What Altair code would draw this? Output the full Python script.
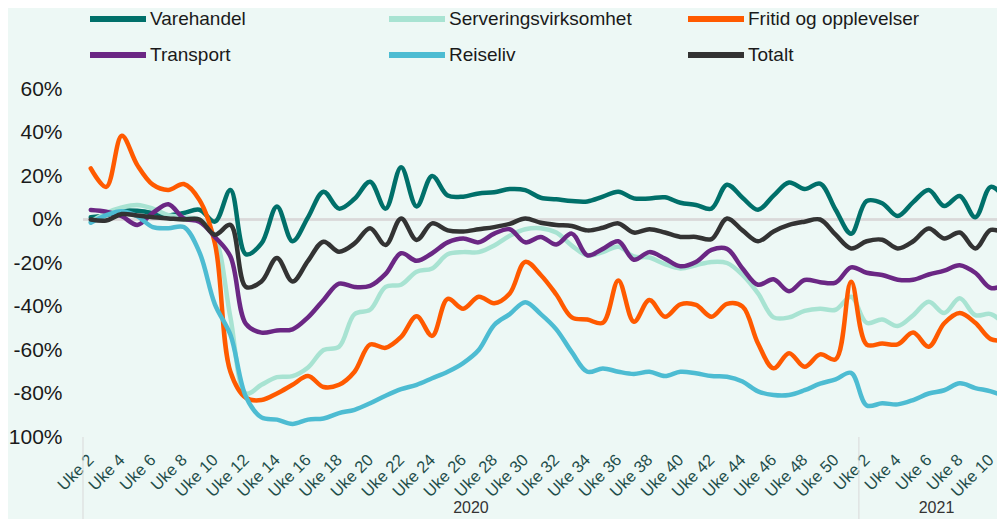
import json
import altair as alt
import pandas as pd

# ---- data -------------------------------------------------------------
week_labels = [f"Uke {w}" for w in range(2, 52)] + [f"Uke {w}" for w in range(2, 12)]
years = ["2020", "2021"]
year_centers = [24.5, 54.5]
group_bounds = [-0.5, 49.5]

series_names = ["Varehandel", "Serveringsvirksomhet", "Fritid og opplevelser",
                "Transport", "Reiseliv", "Totalt"]
series_colors = ["#00706a", "#a8e3d2", "#ff5a00", "#6b2784", "#4dbcd2", "#333333"]

varehandel = [1, 2, 4, 4, 3, 2, 3, 4.5, -1, 13.6, -16, -11, 6, -10, 1, 12.8, 5, 9.5, 17.4, 5,
              24, 6, 20, 11, 10.5, 12, 12.5, 14, 13.5, 10, 9.3, 8.5, 8.3, 10.5, 12.8, 9.7, 9.7, 10.2, 7.7, 6.7,
              5, 16, 10, 4.5, 11, 17, 14, 16.5, 4.5, -6.5, 8.5, 7.5, 1.6, 8, 13.6, 6.2, 10.8, 1, 15, 9.3]
servering = [-1, 3, 5.5, 6.7, 5, 2, 1, 0, -8, -45, -80, -76, -72.5, -72, -68, -60, -58.5, -43.5, -41.5, -31,
             -30, -24, -22.5, -16, -15, -15, -12, -7.5, -4.5, -4, -6, -12, -16.5, -15, -12.5, -17, -17.5, -20.5, -22.5, -21,
             -19.5, -20, -25.5, -34, -45, -45, -42, -41, -41.5, -35.5, -47.5, -46, -49, -44, -37.8, -43, -36.2, -44, -43.5, -49]
fritid = [23.5, 15, 38.5, 25, 16, 13.6, 16.3, 9, -11, -70, -82, -83, -80, -76, -72, -77, -76, -70, -57.5, -59,
          -54, -44.5, -53.5, -36.5, -41, -35.5, -38.5, -34, -19.5, -25.5, -34.5, -45, -46, -47.5, -28, -47, -37, -44.7, -39, -39.3,
          -44.7, -38.8, -40, -57, -68.4, -61.5, -67.7, -62, -64.3, -28.6, -57.5, -57, -57.4, -52, -58.5, -47.7, -43, -47.5, -55, -55.5]
transport = [4.4, 3.6, 1.5, -2.5, 3, 7, 0.5, -1, -8, -17, -48, -52, -51, -50.5, -45, -37, -29.5, -31, -30.5, -25,
             -15.5, -19, -15.5, -10.5, -8.7, -10.5, -6.5, -4.5, -10.5, -8, -11.5, -6.5, -16.5, -13.5, -10, -18.5, -15, -18, -21.5, -19.5,
             -14, -13.5, -22.5, -30, -27.5, -33, -27.8, -28.8, -29, -22, -24.5, -25.5, -27.7, -27.7, -25.3, -23.5, -21, -24.5, -31.5, -29.5]
reiseliv = [-1.5, 2, 3.8, 1.5, -3.5, -4, -3.5, -15, -39, -53, -81.5, -91, -92, -94, -92, -91.5, -89, -87.5, -84.5, -81,
            -78, -76, -73, -70, -66, -60, -48.5, -43.5, -38, -43.5, -50.5, -61, -70, -68.5, -70, -71, -70, -72, -70, -70.7,
            -72, -72.3, -74.5, -79, -80.7, -80.7, -78.5, -75.5, -73.5, -70.5, -85.5, -84.5, -85, -83, -80, -78.5, -75.3, -77.5, -79, -81.5]
totalt = [0, -0.5, 2.5, 1.8, 1, 0.5, 0, 0, -7, -2.5, -31, -28.5, -17.7, -28.5, -19, -10.2, -14.8, -11, -4, -11.7,
          0.5, -9.4, -1.8, -5, -5.5, -4.5, -3.5, -2, 0.5, -1.5, -2.5, -3, -5, -3.8, -1.8, -6, -4.5, -6, -8, -8,
          -9, 0.5, -5, -10, -5.5, -2.5, -1, 0, -7, -13.3, -10, -9.3, -13.3, -10, -4.1, -8.7, -6, -13.3, -4.8, -7]

series_values = [varehandel, servering, fritid, transport, reiseliv, totalt]

rows = []
for name, vals in zip(series_names, series_values):
    for i, v in enumerate(vals):
        rows.append({"idx": i, "serie": name, "value": v})
df = pd.DataFrame(rows)

years_df = pd.DataFrame({"year": years, "center": year_centers})
bounds_df = pd.DataFrame({"bound": group_bounds})

# ---- layout -----------------------------------------------------------
W, H = 914, 348
xscale = alt.Scale(domain=[-0.5, 58.4], nice=False, zero=False)
yscale = alt.Scale(domain=[-100, 60], nice=False, zero=False)
label_expr = json.dumps(week_labels) + "[datum.value]"

x_axis = alt.Axis(values=list(range(0, 60, 2)), labelExpr=label_expr, labelAngle=-45,
                  labelFontSize=16.5, labelColor="#1f4e4b", labelPadding=20,
                  labelBaseline="middle", ticks=False, domain=False, grid=False,
                  labelOverlap=False, labelBound=False, title=None)

zero = alt.Chart(df).mark_rule(color="#d9d9d9", strokeWidth=1.5).encode(
    y=alt.datum(0, scale=yscale)
)

lines = alt.Chart(df).mark_line(
    strokeWidth=4.5, interpolate="catmull-rom", clip=True, strokeCap="round", strokeJoin="round"
).encode(
    x=alt.X("idx:Q", scale=xscale, title=None, axis=x_axis),
    y=alt.Y("value:Q", scale=yscale, title=None,
            axis=alt.Axis(values=list(range(-100, 61, 20)),
                          labelExpr="datum.value == -100 ? '100%' : datum.value + '%'",
                          labelFontSize=21, labelColor="#1a1a1a", labelPadding=21,
                          ticks=False, domain=False, grid=False)),
    color=alt.Color("serie:N", scale=alt.Scale(domain=series_names, range=series_colors),
                    legend=alt.Legend(orient="none", legendX=4, legendY=-80, direction="horizontal",
                                      columns=3, title=None, symbolType="stroke", symbolSize=3136,
                                      symbolStrokeWidth=6, labelFontSize=19, labelColor="#1a1a1a",
                                      labelOffset=1, columnPadding=53, rowPadding=16,
                                      clipHeight=20,
                                      gridAlign="all", labelLimit=400, padding=0)),
    order=alt.Order("idx:Q"),
)

seps = alt.Chart(bounds_df).mark_rule(color="#d9d9d9", strokeWidth=1).encode(
    x=alt.X("bound:Q", scale=xscale, title=None, axis=x_axis),
    y=alt.value(H),
    y2=alt.value(H + 95),
)

year_text = alt.Chart(years_df).mark_text(fontSize=16, color="#333333", baseline="alphabetic").encode(
    x=alt.X("center:Q", scale=xscale, title=None, axis=x_axis),
    y=alt.value(424),
    text="year:N",
)

chart = alt.layer(zero, lines, seps, year_text).properties(
    width=W, height=H,
    autosize=alt.AutoSizeParams(type="none"),
    padding={"left": 75, "top": 81, "right": 0, "bottom": 82},
    background="#edf8f5",
).configure(font="Liberation Sans").configure_view(stroke=None)

chart.save("out.html", embed_options={"renderer": "svg", "actions": False})
